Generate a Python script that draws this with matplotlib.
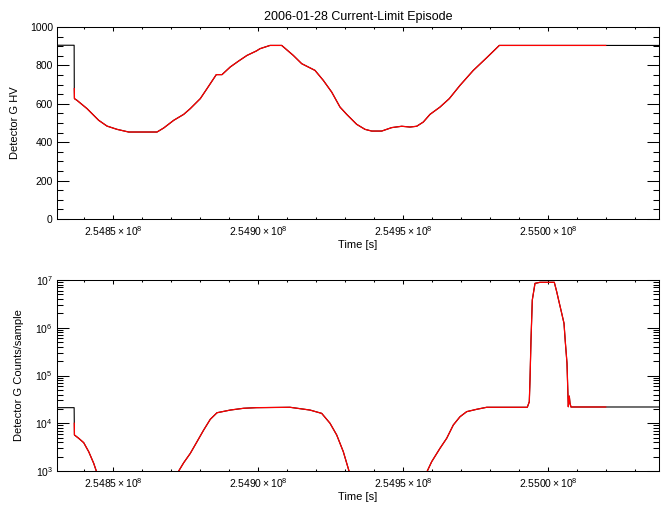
import matplotlib
matplotlib.use('Agg')
import matplotlib.pyplot as plt
from matplotlib.ticker import MultipleLocator, FuncFormatter, LogLocator, NullFormatter
import numpy as np

plt.rcParams['font.family'] = ['Liberation Sans', 'DejaVu Sans']
plt.rcParams['mathtext.fontset'] = 'custom'
plt.rcParams['mathtext.rm'] = 'Liberation Sans'
plt.rcParams['mathtext.it'] = 'Liberation Sans:italic'
plt.rcParams['mathtext.bf'] = 'Liberation Sans:bold'

title = '2006-01-28 Current-Limit Episode'
xlabel = 'Time [s]'
ylabel_hv = 'Detector G HV'
ylabel_cnt = 'Detector G Counts/sample'

x_range = [254830690, 255038277]
episode_start = 254836650
episode_end = 255019898

hv_time = [254830690, 254836600, 254836650, 254836700, 254837586, 254841034, 254845069,
           254847931, 254851379, 254855414, 254865172, 254867483, 254870931, 254874379,
           254876655, 254880104, 254882414, 254885621, 254887586, 254890448, 254893345,
           254896207, 254899414, 254900690, 254904138, 254908173, 254912173, 254915069,
           254919656, 254922518, 254925414, 254928276, 254930587, 254934035, 254936897,
           254939207, 254942656, 254946104, 254949552, 254952414, 254954725, 254957000,
           254959311, 254962759, 254965966, 254969656, 254974242, 254978863, 254983208,
           255019898, 255038277]
hv_value = [905, 905, 679, 627, 618, 575, 514,
            484, 467, 453, 453, 474, 514, 545,
            575, 627, 679, 752, 752, 792, 823,
            852, 875, 887, 904, 904, 852, 809,
            774, 722, 661, 583, 545, 493, 467,
            458, 458, 476, 483, 479, 483, 505,
            545, 583, 627, 696, 774, 840, 904,
            904, 904]

cnt_time = [254830690, 254836600, 254836650, 254836700, 254838172, 254839896, 254841621,
            254843345, 254844241, 254845500, 254871400, 254872655, 254874379, 254876655,
            254878966, 254881276, 254883552, 254885862, 254890448, 254895069, 254899414,
            254911035, 254917932, 254921966, 254924828, 254927138, 254929414, 254931380,
            254932500, 254957200, 254958380, 254959897, 254962759, 254965069, 254967345,
            254969656, 254971966, 254975414, 254978863, 254992863, 254993552, 254993794,
            254994138, 254994587, 254995518, 254997242, 255002173, 255003001, 255003794,
            255004725, 255005518, 255005966, 255006553, 255006898, 255007001, 255007346,
            255007587, 255007932, 255019898, 255038277]
cnt_value = [21200, 21200, 10000, 5680, 4840, 3920, 2540,
             1450, 1000, 700, 700, 1000, 1490, 2340,
             4110, 7230, 12100, 16600, 18900, 20600, 21200,
             21600, 18900, 16100, 10000, 5680, 2540, 1000,
             700, 700, 1000, 1570, 2990, 4840, 9190,
             13700, 17500, 19600, 21600, 21600, 28200, 80500,
             553000, 3.81e6, 8.5e6, 8.95e6, 8.95e6, 5.69e6, 3.51e6,
             2.01e6, 1.24e6, 511000, 180000, 36000, 22200, 37000,
             26200, 21900, 21900, 21900]


def xfmt(v, pos):
    return r'$\mathregular{%.4f\times10^{8}}$' % (v / 1e8)


W, H = 670, 511
fig = plt.figure(figsize=(W / 100, H / 100), dpi=100)
ax1 = fig.add_axes([57 / W, 1 - 219 / H, 602 / W, 192 / H])
ax2 = fig.add_axes([57 / W, 1 - 471 / H, 602 / W, 191 / H])


def plot_series(ax, t, v):
    t = np.asarray(t, dtype=float)
    v = np.asarray(v, dtype=float)
    ax.plot(t, v, color='black', lw=0.8)
    m = (t >= episode_start) & (t <= episode_end)
    ax.plot(t[m], v[m], color='red', lw=0.9)


plot_series(ax1, hv_time, hv_value)
plot_series(ax2, cnt_time, cnt_value)

for ax in (ax1, ax2):
    ax.set_xlim(x_range)
    ax.xaxis.set_major_locator(MultipleLocator(50000))
    ax.xaxis.set_minor_locator(MultipleLocator(10000))
    ax.xaxis.set_major_formatter(FuncFormatter(xfmt))
    ax.tick_params(which='both', direction='in', top=True, right=True,
                   labelsize=7.5, width=0.75)
    ax.tick_params(axis='x', which='major', length=3.0, pad=4)
    ax.tick_params(axis='x', which='minor', length=1.6)
    ax.tick_params(axis='y', which='major', length=8.6, pad=3)
    ax.tick_params(axis='y', which='minor', length=4.3)
    for s in ax.spines.values():
        s.set_linewidth(0.75)
    ax.set_xlabel(xlabel, fontsize=8, labelpad=1)

ax1.set_ylim(0, 1000)
ax1.yaxis.set_major_locator(MultipleLocator(200))
ax1.yaxis.set_minor_locator(MultipleLocator(50))
ax1.set_ylabel(ylabel_hv, fontsize=8, labelpad=7)
ax1.set_title(title, fontsize=9, pad=5)

ax2.set_yscale('log')
ax2.set_ylim(1e3, 1e7)
ax2.yaxis.set_major_locator(LogLocator(base=10, numticks=10))
ax2.yaxis.set_minor_locator(LogLocator(base=10, subs=np.arange(2, 10), numticks=20))
ax2.yaxis.set_minor_formatter(NullFormatter())
ax2.set_ylabel(ylabel_cnt, fontsize=8, labelpad=8)

fig.savefig('out.png', dpi=100)
